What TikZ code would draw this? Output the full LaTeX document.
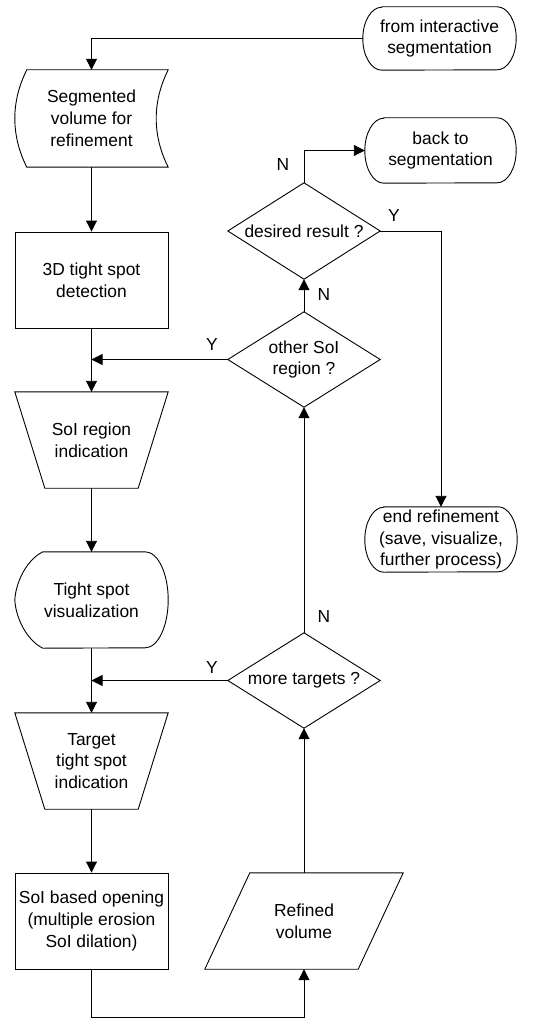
\documentclass[tikz,border=0pt]{standalone}
\usepackage{fontspec}
\setmainfont{Liberation Sans}
\usetikzlibrary{arrows.meta}
\newcommand\termpath[2]{%
  \draw[shp] ([xshift=19pt]#1.north west) -- ([xshift=-19pt]#1.north east)
    arc[start angle=90,end angle=-90,x radius=19pt,y radius=#2]
    -- ([xshift=19pt]#1.south west)
    arc[start angle=270,end angle=90,x radius=19pt,y radius=#2] -- cycle;}
\newcommand\diapath[1]{%
  \draw[shp] (#1.west) -- (#1.north) -- (#1.east) -- (#1.south) -- cycle;}
\begin{document}
\begin{tikzpicture}[x=1pt,y=1pt,
  every node/.style={font=\fontsize{17.4}{21.8}\selectfont},
  base/.style={draw=none,inner sep=0pt,align=center,minimum height=96pt,minimum width=153pt},
  shp/.style={draw=black,line width=0.9pt,line join=miter},
  arr/.style={draw=black,line width=0.9pt,-{Triangle[length=11pt,width=11pt]}},
  lbl/.style={inner sep=0pt}
]
\useasboundingbox (0,0) rectangle (552,-1019);

% terminators
\node[base,minimum height=63pt] (t1) at (439.5,-38.5) {from interactive\\segmentation};
\termpath{t1}{31.5pt}
\node[base,minimum height=65pt,minimum width=151pt] (t2) at (440.5,-150.5) {back to\\segmentation};
\termpath{t2}{32.5pt}
\node[base,minimum height=65pt,minimum width=152pt] (t3) at (441,-539.5) {end refinement\\(save, visualize,\\further process)};
\termpath{t3}{32.5pt}

% stored data
\node[base,minimum height=97pt] (doc) at (91.5,-118.5) {Segmented\\volume for\\refinement};
\draw[shp] ([xshift=12pt]doc.north west) -- (doc.north east)
  .. controls ([xshift=-16pt,yshift=-32pt]doc.north east) and ([xshift=-16pt,yshift=32pt]doc.south east) .. (doc.south east)
  -- ([xshift=12pt]doc.south west)
  .. controls ([xshift=-4pt,yshift=32pt]doc.south west) and ([xshift=-4pt,yshift=-32pt]doc.north west) .. ([xshift=12pt]doc.north west) -- cycle;

% process box
\node[base,draw=black,line width=0.9pt] (b1) at (91.5,-280) {3D tight spot\\detection};

% manual operation 1
\node[base] (m1) at (91.5,-440) {SoI region\\indication};
\draw[shp] (m1.north west) -- (m1.north east) -- ([xshift=-30pt]m1.south east) -- ([xshift=30pt]m1.south west) -- cycle;

% display
\node[base] (disp) at (91.5,-600) {Tight spot\\visualization};
\draw[shp] ([xshift=28pt]disp.north west) -- ([xshift=-23pt]disp.north east)
  arc[start angle=90,end angle=-90,x radius=23pt,y radius=48pt]
  -- ([xshift=28pt]disp.south west)
  .. controls ([xshift=12pt,yshift=8pt]disp.south west) and ([xshift=1pt,yshift=30pt]disp.south west) .. (disp.west)
  .. controls ([xshift=1pt,yshift=-30pt]disp.north west) and ([xshift=12pt,yshift=-8pt]disp.north west) .. ([xshift=28pt]disp.north west) -- cycle;

% manual operation 2
\node[base] (m2) at (91.5,-761) {Target\\tight spot\\indication};
\draw[shp] (m2.north west) -- (m2.north east) -- ([xshift=-30pt]m2.south east) -- ([xshift=30pt]m2.south west) -- cycle;

% process box 2
\node[base,draw=black,line width=0.9pt] (b2) at (91.5,-921) {SoI based opening\\(multiple erosion\\SoI dilation)};

% data (parallelogram)
\node[base,minimum width=198pt] (io) at (304,-921) {Refined\\volume};
\draw[shp] ([xshift=45pt]io.north west) -- (io.north east) -- ([xshift=-45pt]io.south east) -- (io.south west) -- cycle;

% decisions
\node[base,minimum width=152pt] (q1) at (304,-231) {desired result ?};
\diapath{q1}
\node[base,minimum width=152pt,minimum height=95pt] (q2) at (304,-359.5) {other SoI\\region ?};
\diapath{q2}
\node[base,minimum width=152pt,minimum height=95pt] (q3) at (304,-680.5) {more targets ?};
\diapath{q3}

% junctions
\coordinate (j1) at (91.5,-359.5);
\coordinate (j2) at (91.5,-680.5);

% connectors
\draw[arr] (t1.west) -| (doc.north);
\draw[arr] (doc.south) -- (b1.north);
\draw[arr] (b1.south) -- (m1.north);
\draw[arr] (q2.west) -- (j1);
\draw[arr] (m1.south) -- (disp.north);
\draw[arr] (disp.south) -- (m2.north);
\draw[arr] (q3.west) -- (j2);
\draw[arr] (m2.south) -- (b2.north);
\draw[arr] (b2.south) -- ++(0,-48) -| (io.south);
\draw[arr] (io.north) -- (q3.south);
\draw[arr] (q3.north) -- (q2.south);
\draw[arr] (q2.north) -- (q1.south);
\draw[arr] (q1.north) |- (t2.west);
\draw[arr] (q1.east) -| (t3.north);

% labels
\node[lbl] (ln1) at (283,-165) {N};
\node[lbl] (ly1) at (394,-216) {Y};
\node[lbl] (ln2) at (324,-295) {N};
\node[lbl] (ly2) at (212,-345) {Y};
\node[lbl] (ln3) at (324,-617) {N};
\node[lbl] (ly3) at (212,-668) {Y};
\end{tikzpicture}
\end{document}
